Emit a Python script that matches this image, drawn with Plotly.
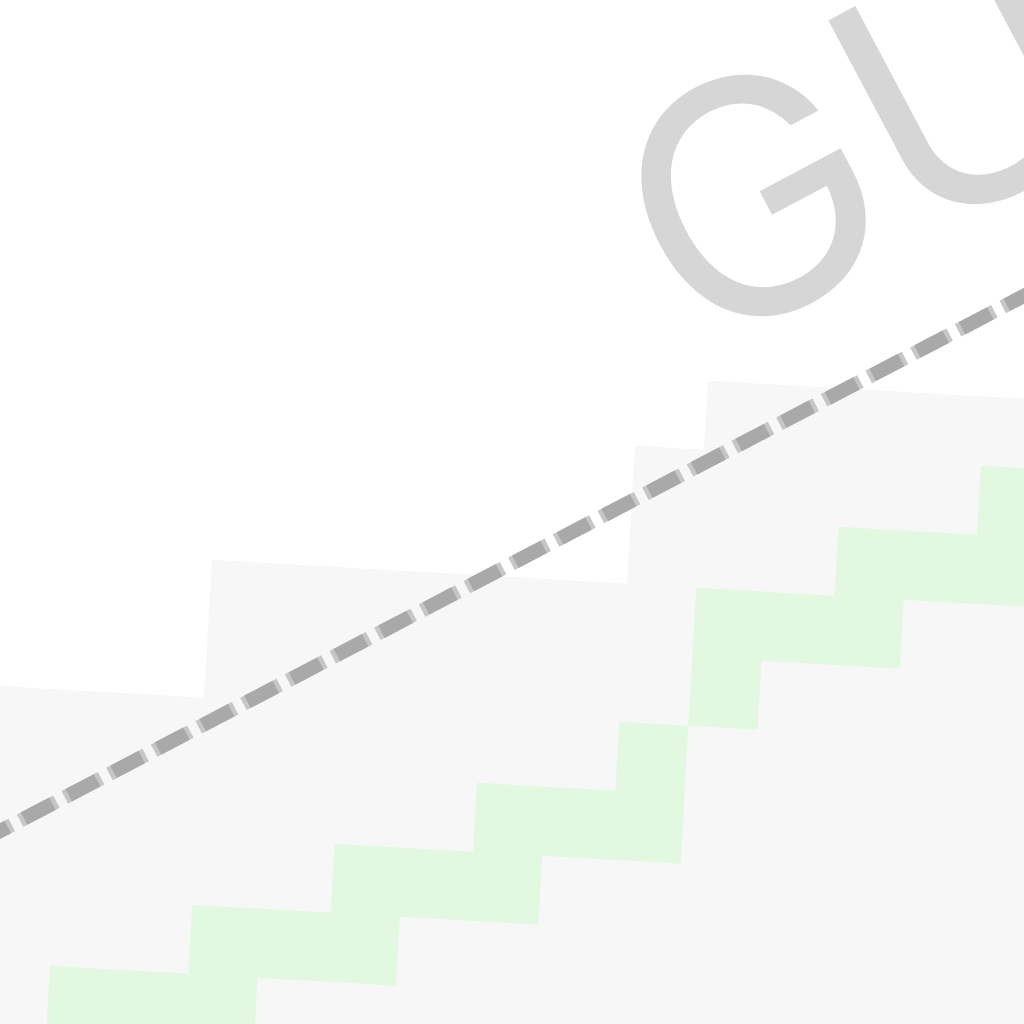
import math
import plotly.graph_objects as go

# cells of the rotated grid: column grows to the right, row grows downward
# top row of the grey window for every column
window_cols = [-3, -2, -1, 0, 1, 2, 3, 4, 5, 6, 7, 8, 9, 10, 11, 12, 13, 14]
window_top = [-4, -4, -4, -4, -4, -6, -6, -6, -6, -6, -6, -8, -9, -9, -9, -9, -9, -9]

# green path cells
path_cols = [0, 0, 1, 2, 2, 3, 4, 4, 5, 6, 6, 7, 8, 8, 9, 9, 10, 11, 11, 12, 13, 13, 14]
path_rows = [0, 1, 0, -1, 0, -1, -2, -1, -2, -3, -2, -3, -4, -3, -6, -5, -6, -7, -6, -7, -8, -7, -8]

# dashed diagonal, two grid corners it runs through
diag_cols = [-4, 11]
diag_rows = [0, -9]

watermark = "GU"

# grid placement on the page (grid is slightly rotated)
ORIGIN = (50.0, 965.7)
U = (69.2, 4.0)
V = (-3.9, 69.0)


def to_px(c, r):
    return ORIGIN[0] + c * U[0] + r * V[0], ORIGIN[1] + c * U[1] + r * V[1]


def staircase(cols, tops, bottoms):
    top_pts, bot_pts = [], []
    for c, t, b in zip(cols, tops, bottoms):
        top_pts += [(c, t), (c + 1, t)]
        bot_pts += [(c, b), (c + 1, b)]
    pts = top_pts + bot_pts[::-1]
    pts.append(pts[0])
    xs, ys = zip(*[to_px(c, r) for c, r in pts])
    return list(xs), list(ys)


fig = go.Figure()

# grey window
wx, wy = staircase(window_cols, window_top, [8] * len(window_cols))
fig.add_trace(go.Scatter(x=wx, y=wy, fill='toself', fillcolor='#f7f7f7',
                         mode='lines', line=dict(width=0), hoverinfo='skip'))

# green path, grouped per column
cols = sorted(set(path_cols))
tops = [min(r for c2, r in zip(path_cols, path_rows) if c2 == c) for c in cols]
bots = [max(r for c2, r in zip(path_cols, path_rows) if c2 == c) + 1 for c in cols]
gx, gy = staircase(cols, tops, bots)
fig.add_trace(go.Scatter(x=gx, y=gy, fill='toself', fillcolor='#e2f8e0',
                         mode='lines', line=dict(width=0), hoverinfo='skip'))

# dashed diagonal
p0 = to_px(diag_cols[0], diag_rows[0])
p1 = to_px(diag_cols[1], diag_rows[1])
L = math.hypot(p1[0] - p0[0], p1[1] - p0[1])
d = ((p1[0] - p0[0]) / L, (p1[1] - p0[1]) / L)
phase = 26.6
for shift, dash, color in [(0, '41px,9.4px', '#c6c6c6'), (4.5, '32px,18.4px', '#a9a9a9')]:
    s0 = phase + shift
    s1 = L + 600
    fig.add_trace(go.Scatter(x=[p0[0] + s0 * d[0], p0[0] + s1 * d[0]],
                             y=[p0[1] + s0 * d[1], p0[1] + s1 * d[1]],
                             mode='lines', line=dict(color=color, width=14, dash=dash),
                             hoverinfo='skip'))

fig.add_annotation(x=858, y=139, text=watermark, showarrow=False, textangle=-28,
                   xanchor='center', yanchor='middle',
                   font=dict(family='Inter', size=328, color='#d6d6d6'))

fig.update_xaxes(range=[0, 1024], visible=False, fixedrange=True)
fig.update_yaxes(range=[1024, 0], visible=False, fixedrange=True)
fig.update_layout(width=1024, height=1024, margin=dict(l=0, r=0, t=0, b=0),
                  paper_bgcolor='white', plot_bgcolor='white', showlegend=False)
# page body has a default margin, drop it so the figure fills the window
fig.write_html("out.html", config={'displayModeBar': False},
               post_script="document.body.style.margin='0';")
